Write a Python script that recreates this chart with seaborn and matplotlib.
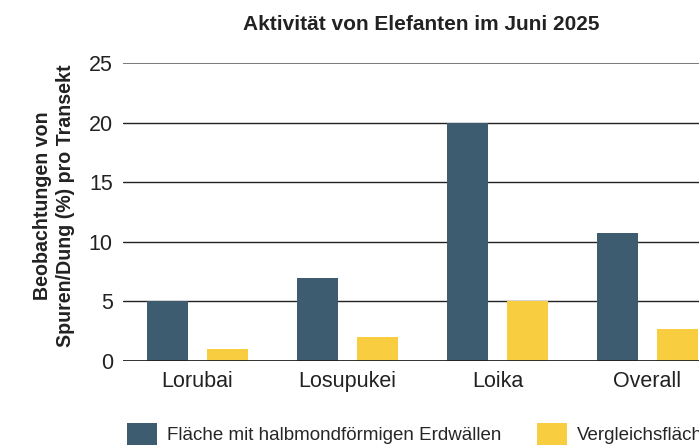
import seaborn as sns
import matplotlib.pyplot as plt
import pandas as pd

sites = ['Lorubai', 'Losupukei', 'Loika', 'Overall']
series = ['Fläche mit halbmondförmigen Erdwällen', 'Vergleichsfläche']
mounds = [5, 7, 20, 10.7]
control = [1, 2, 5, 2.7]
colors = ['#3e5c70', '#f8ce40']

df = pd.DataFrame({
    'site': sites * 2,
    'typ': [series[0]] * 4 + [series[1]] * 4,
    'wert': mounds + control,
})

sns.set_theme(style='white')
plt.rcParams['font.family'] = ['Liberation Sans', 'DejaVu Sans']

fig = plt.figure(figsize=(6.99, 4.48), dpi=100)
# axes runs past the right edge like in the cropped original
ax = fig.add_axes([122.5 / 699, 87 / 448, 600 / 699, 298 / 448])

sns.barplot(data=df, x='site', y='wert', hue='typ', palette=colors,
            width=0.8, gap=0.32, saturation=1, linewidth=0, ax=ax, zorder=3)

ax.set_xlim(-0.5, 3.5)
ax.set_ylim(0, 25)
ax.set_yticks([0, 5, 10, 15, 20, 25])
for y in [5, 10, 15, 20]:
    ax.axhline(y, color='#222222', lw=1, zorder=1)
ax.axhline(25, color='#6e6e6e', lw=1.3, zorder=1)
ax.axhline(0, color='#222222', lw=1.3, zorder=4)
for s in ax.spines.values():
    s.set_visible(False)
ax.tick_params(axis='both', length=0, labelsize=15.5, colors='#222222')
ax.tick_params(axis='y', pad=7)
ax.tick_params(axis='x', pad=7)
ax.set_xlabel('')
ax.set_ylabel('Beobachtungen von\nSpuren/Dung (%) pro Transekt',
              fontsize=14.1, fontweight='bold', color='#222222', linespacing=1.25)
ax.yaxis.set_label_coords(-0.079, 0.52)

fig.text(421 / 699, 1 - 25 / 448, 'Aktivität von Elefanten im Juni 2025',
         ha='center', va='center', fontsize=15, fontweight='bold', color='#222222')

ax.legend(loc='upper left', bbox_to_anchor=(127 / 699, 1 - 423 / 448),
          bbox_transform=fig.transFigure, ncol=2, frameon=False, fontsize=13.5,
          handlelength=1.6, handleheight=1.4, handletextpad=0.53, columnspacing=1.9,
          borderaxespad=0, borderpad=0)

fig.savefig('out.png', dpi=100)
